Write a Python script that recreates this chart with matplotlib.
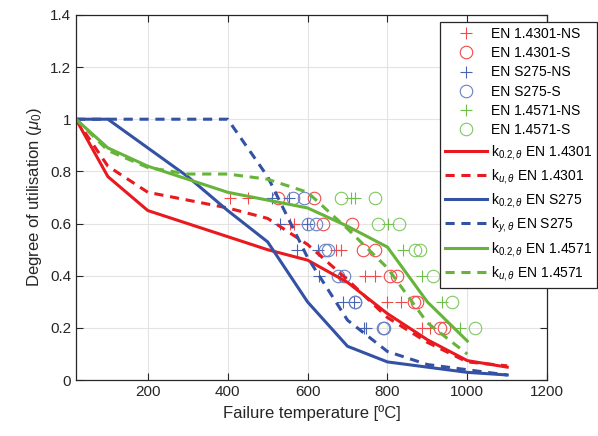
# plot.py
# Failure temperature vs degree of utilisation, with reduction factor curves

import matplotlib.pyplot as plt
from matplotlib.ticker import FuncFormatter

plt.rcParams['font.family'] = ['Liberation Sans', 'DejaVu Sans']
plt.rcParams['mathtext.fontset'] = 'custom'
plt.rcParams['mathtext.rm'] = 'Liberation Sans'
plt.rcParams['mathtext.it'] = 'Liberation Sans:italic'

RED = '#e8191f'
BLUE = '#3352a4'
GREEN = '#66b43a'

# reduction factor curves
temp = [20, 100, 200, 300, 400, 500, 600, 700, 800, 900, 1000, 1100]
k02_14301 = [1.0, 0.78, 0.65, 0.60, 0.55, 0.50, 0.46, 0.375, 0.255, 0.155, 0.075, 0.05]
ku_14301 = [1.0, 0.82, 0.72, 0.69, 0.66, 0.62, 0.52, 0.385, 0.24, 0.145, 0.07, 0.055]
k02_s275 = [1.0, 1.0, 0.89, 0.78, 0.65, 0.53, 0.30, 0.13, 0.07, 0.05, 0.03, 0.02]
ky_s275 = [1.0, 1.0, 1.0, 1.0, 1.0, 0.78, 0.47, 0.23, 0.11, 0.06, 0.04, 0.02]
temp_14571 = [20, 100, 200, 300, 400, 500, 600, 700, 800, 900, 1000]
k02_14571 = [1.0, 0.89, 0.82, 0.77, 0.72, 0.69, 0.66, 0.59, 0.51, 0.30, 0.15]
ku_14571 = [1.0, 0.88, 0.815, 0.79, 0.79, 0.77, 0.72, 0.58, 0.43, 0.22, 0.10]

# test results (failure temperature, load level)
red_ns_t = [405, 450, 556, 566, 672, 684, 744, 769, 800, 835, 886, 907]
red_ns_u = [0.7, 0.7, 0.6, 0.6, 0.5, 0.5, 0.4, 0.4, 0.3, 0.3, 0.2, 0.2]
red_s_t = [527, 617, 638, 712, 740, 769, 806, 823, 866, 873, 932, 941]
red_s_u = [0.7, 0.7, 0.6, 0.6, 0.5, 0.5, 0.4, 0.4, 0.3, 0.3, 0.2, 0.2]
blue_ns_t = [512, 554, 532, 598, 574, 626, 628, 680, 689, 716, 742, 746]
blue_ns_u = [0.7, 0.7, 0.6, 0.6, 0.5, 0.5, 0.4, 0.4, 0.3, 0.3, 0.2, 0.2]
blue_s_t = [564, 592, 600, 622, 643, 652, 677, 690, 718, 720, 790, 792]
blue_s_u = [0.7, 0.7, 0.6, 0.6, 0.5, 0.5, 0.4, 0.4, 0.3, 0.3, 0.2, 0.2]
green_ns_t = [708, 718, 802, 840, 886, 936, 982]
green_ns_u = [0.7, 0.7, 0.6, 0.5, 0.4, 0.3, 0.2]
green_s_t = [683, 769, 777, 829, 869, 882, 915, 961, 1020]
green_s_u = [0.7, 0.7, 0.6, 0.6, 0.5, 0.5, 0.4, 0.3, 0.2]

fig = plt.figure(figsize=(5.98, 4.36), dpi=100)
ax = fig.add_axes([0.127, 0.128, 0.788, 0.838])

ms = 9
mew = 0.8
ax.plot(red_ns_t, red_ns_u, ls='none', marker='+', ms=ms, mew=mew, color='#f04a4a', label='EN 1.4301-NS')
ax.plot(red_s_t, red_s_u, ls='none', marker='o', ms=ms, mew=mew, mfc='none', mec='#f04a4a', label='EN 1.4301-S')
ax.plot(blue_ns_t, blue_ns_u, ls='none', marker='+', ms=ms, mew=mew, color='#4a64b4', label='EN S275-NS')
ax.plot(blue_s_t, blue_s_u, ls='none', marker='o', ms=ms, mew=mew, mfc='none', mec='#6a80c4', label='EN S275-S')
ax.plot(green_ns_t, green_ns_u, ls='none', marker='+', ms=ms, mew=mew, color='#6cc04a', label='EN 1.4571-NS')
ax.plot(green_s_t, green_s_u, ls='none', marker='o', ms=ms, mew=mew, mfc='none', mec='#80c860', label='EN 1.4571-S')

lw = 2.2
ax.plot(temp, k02_14301, color=RED, lw=lw, label=r'k$_{0.2,\mathit{\theta}}$ EN 1.4301')
ax.plot(temp, ku_14301, color=RED, lw=lw, ls=(0, (3, 2.2)), label=r'k$_{u,\mathit{\theta}}$ EN 1.4301')
ax.plot(temp, k02_s275, color=BLUE, lw=lw, label=r'k$_{0.2,\mathit{\theta}}$ EN S275')
ax.plot(temp, ky_s275, color=BLUE, lw=lw, ls=(0, (3, 2.2)), label=r'k$_{y,\mathit{\theta}}$ EN S275')
ax.plot(temp_14571, k02_14571, color=GREEN, lw=lw, label=r'k$_{0.2,\mathit{\theta}}$ EN 1.4571')
ax.plot(temp_14571, ku_14571, color=GREEN, lw=lw, ls=(0, (3, 2.2)), label=r'k$_{u,\mathit{\theta}}$ EN 1.4571')

ax.set_xlim(20, 1200)
ax.set_ylim(0, 1.4)
ax.set_xticks([200, 400, 600, 800, 1000, 1200])
ax.set_yticks([0, 0.2, 0.4, 0.6, 0.8, 1.0, 1.2, 1.4])
ax.yaxis.set_major_formatter(FuncFormatter(lambda v, p: '%g' % v))
ax.grid(True, color='#e3e3e3', lw=0.8)
ax.set_axisbelow(True)
ax.tick_params(direction='in', top=True, right=True, labelsize=11, colors='#262626', length=5)
for sp in ax.spines.values():
    sp.set_color('#262626')
    sp.set_linewidth(0.9)

ax.set_xlabel('Failure temperature [ºC]', fontsize=12, color='#262626')
ax.set_ylabel(r'Degree of utilisation ($\mathit{\mu}_0$)', fontsize=12, color='#262626')

leg = ax.legend(loc='upper left', bbox_to_anchor=(0.736, 0.9495), bbox_transform=fig.transFigure,
                fontsize=10, frameon=True, fancybox=False, framealpha=1, edgecolor='#262626',
                handlelength=3.0, handletextpad=0.3, labelspacing=0.38, borderpad=0.35,
                borderaxespad=0)
leg.get_frame().set_linewidth(0.9)

fig.savefig('out.png', dpi=100)
